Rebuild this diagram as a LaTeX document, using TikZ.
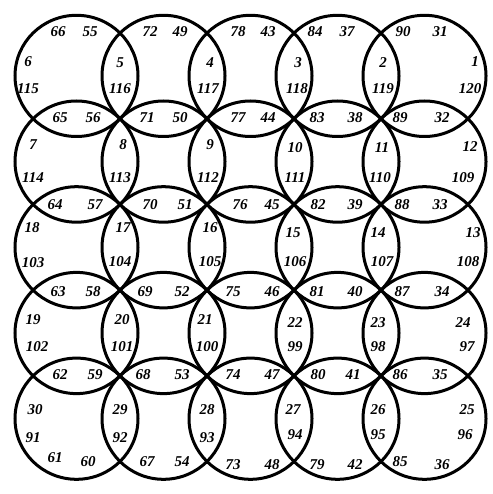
\documentclass[tikz,border=0pt]{standalone}
\usepackage{fontspec}
\setmainfont{Liberation Serif}
\begin{document}
\begin{tikzpicture}[x=1pt,y=-1pt,
  ring/.style={line width=3pt,black},
  num/.style={font=\fontsize{15}{15}\selectfont\bfseries\itshape,inner sep=0pt,anchor=center}]
\useasboundingbox (0,0) rectangle (492,494);
\foreach \i in {0,...,4}{
  \foreach \j in {0,...,4}{
    \draw[ring] ({76.5+87*\i},{75.9+85.7*\j}) ellipse [x radius=61.5, y radius=60.6];
  }
}
\foreach \v/\x/\y in {
66/58/32, 55/90/32, 72/150/32, 49/180/32, 78/238/32, 43/268/32, 84/315/32, 37/347/32, 90/403/32, 31/440/32,
6/28/62, 115/28/89, 5/120/63, 116/120/89, 4/210/63, 117/208/89, 3/298/63, 118/297/89, 2/383/63, 119/383/89, 1/475/62, 120/470/89,
65/60/118, 56/93/118, 71/147/118, 50/180/118, 77/238/118, 44/268/118, 83/317/118, 38/355/118, 89/400/118, 32/442/118,
7/33/145, 114/33/178, 8/123/145, 113/120/178, 9/210/145, 112/208/178, 10/295/148, 111/295/178, 11/382/148, 110/380/178, 12/470/147, 109/463/178,
64/55/205, 57/95/205, 70/150/205, 51/185/205, 76/240/205, 45/272/205, 82/318/205, 39/355/205, 88/402/205, 33/440/205,
18/32/228, 103/33/263, 17/123/228, 104/120/262, 16/210/228, 105/210/262, 15/293/233, 106/295/262, 14/378/233, 107/382/262, 13/473/233, 108/468/262,
63/58/292, 58/93/292, 69/145/292, 52/182/292, 75/233/292, 46/272/292, 81/317/292, 40/355/292, 87/402/292, 34/442/292,
19/33/320, 102/37/347, 20/122/320, 101/122/347, 21/205/320, 100/207/347, 22/295/323, 99/295/347, 23/378/323, 98/378/347, 24/463/323, 97/467/347,
62/60/375, 59/95/375, 68/143/375, 53/182/375, 74/233/375, 47/272/375, 80/318/375, 41/353/375, 86/400/375, 35/440/375,
30/35/410, 91/33/438, 29/120/410, 92/120/438, 28/207/410, 93/207/438, 27/293/410, 94/295/435, 26/378/410, 95/378/435, 25/467/410, 96/465/435,
61/55/458, 60/88/462, 67/147/462, 54/182/462, 73/233/465, 48/272/465, 79/317/465, 42/355/465, 85/400/462, 36/442/465}
{ \node[num] (n\v) at (\x,\y) {\v}; }
\end{tikzpicture}
\end{document}
